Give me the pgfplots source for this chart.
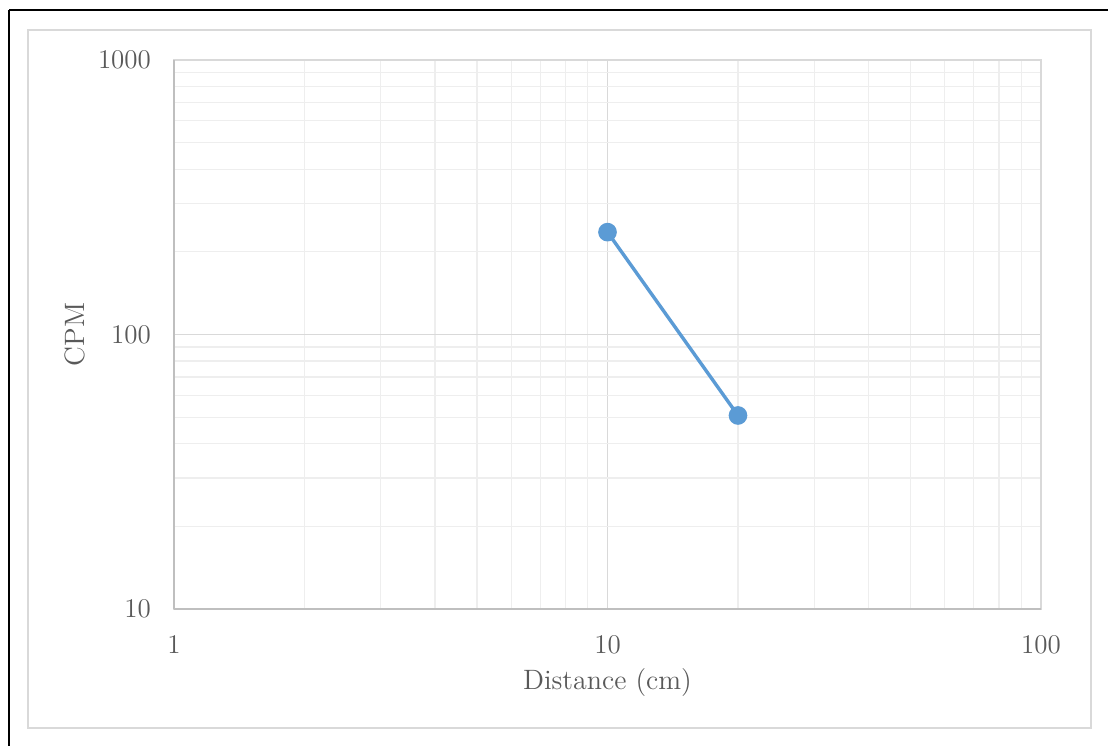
\documentclass[border=0pt]{standalone}
\usepackage{pgfplots}
\pgfplotsset{compat=1.18}
\definecolor{txt}{HTML}{595959}
\definecolor{majgrid}{HTML}{D9D9D9}
\definecolor{mingrid}{HTML}{EEEEEE}
\definecolor{axline}{HTML}{BFBFBF}
\definecolor{series}{HTML}{5B9BD5}
\begin{document}
\begin{tikzpicture}
% page frame, 1 px = 0.5 pt
\begin{scope}[x=0.5pt,y=0.5pt]
\clip (0,0) rectangle (1108,745);
\useasboundingbox (0,0) rectangle (1108,745);
\fill[white] (0,0) rectangle (1108,745);
\draw[black, line width=1pt] (9,735) -- (1200,735);
\draw[black, line width=1pt] (9,735) -- (9,-50);
\draw[majgrid, line width=0.8pt] (28,715) rectangle (1091,17);
\end{scope}
\begin{axis}[
    at={(87pt,68pt)}, anchor=south west,
    scale only axis,
    width=433.5pt, height=274.5pt,
    xmode=log, ymode=log,
    xmin=1, xmax=100, ymin=10, ymax=1000,
    xtick={1,10,100}, ytick={10,100,1000},
    xticklabels={1,10,100}, yticklabels={10,100,1000},
    grid=both,
    major grid style={majgrid, line width=0.6pt},
    minor grid style={mingrid, line width=0.6pt},
    axis line style={majgrid, line width=0.6pt},
    major tick length=0pt, minor tick length=0pt,
    tick style={draw=none},
    ticklabel style={font=\fontsize{13.5}{15}\selectfont, text=txt},
    yticklabel style={xshift=-8pt},
    xticklabel style={yshift=-9.5pt},
    xlabel={Distance (cm)}, ylabel={CPM},
    label style={font=\fontsize{14}{16}\selectfont, text=txt},
    xlabel style={at={(axis description cs:0.5,-0.1348)}, anchor=center},
    ylabel style={at={(axis description cs:-0.1142,0.5)}, anchor=center},
    clip=false,
]
\draw[axline, line width=0.8pt] (rel axis cs:0,0) -- (rel axis cs:1,0);
\draw[axline, line width=0.8pt] (rel axis cs:0,0) -- (rel axis cs:0,1);
\addplot[series, line width=1.7pt, mark=*, mark size=3.8pt, mark options={fill=series, draw=series}]
  coordinates {(10,236) (20,50.7)};
\end{axis}
\end{tikzpicture}
\end{document}
